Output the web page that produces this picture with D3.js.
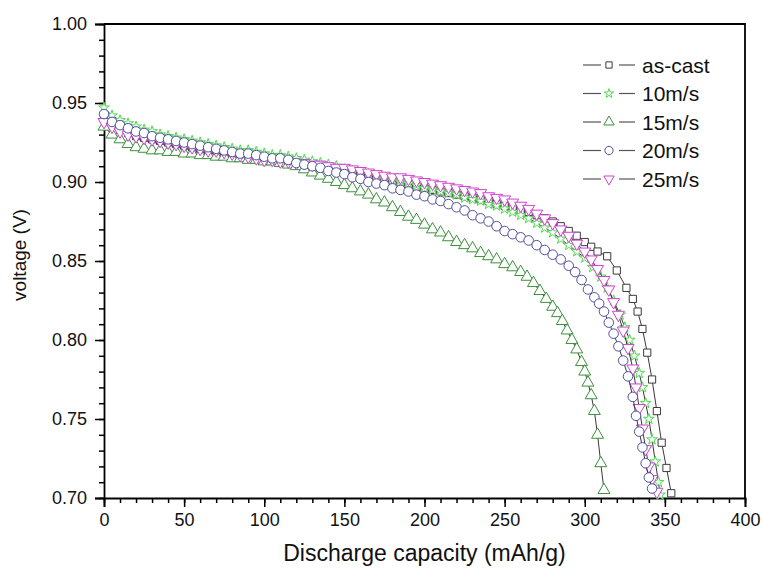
<!DOCTYPE html>
<html>
<head>
<meta charset="utf-8">
<script src="https://cdn.jsdelivr.net/npm/d3@7"></script>
<style>
  body { margin: 0; background: #fff; }
  svg text { font-family: "Liberation Sans", Arial, sans-serif; fill: #111; }
</style>
</head>
<body>
<div id="graph"></div>
<script>

// Discharge capacity (mAh/g) and voltage (V), one pair of arrays per sample

var capAsCast  = [ 0, 5, 10, 15, 20, 25, 30, 35, 40, 45, 50, 55, 60, 65, 70, 75, 80, 85, 90, 95,
                   100, 105, 110, 115, 120, 125, 130, 135, 140, 145, 150, 155, 160, 165, 170, 175, 180, 185, 190, 195,
                   200, 205, 210, 215, 220, 225, 230, 235, 240, 245, 250, 255, 260, 265, 270, 275, 280, 285, 290, 295,
                   300, 304, 308, 314, 320, 326, 330, 333, 336, 339, 342, 345, 348, 351, 354 ];
var voltAsCast = [ 0.940, 0.936, 0.933, 0.931, 0.929, 0.928, 0.927, 0.926, 0.925, 0.924, 0.923, 0.922, 0.921, 0.920, 0.920, 0.919, 0.918, 0.917, 0.917, 0.916,
                   0.915, 0.914, 0.913, 0.913, 0.912, 0.911, 0.910, 0.909, 0.909, 0.908, 0.907, 0.906, 0.905, 0.904, 0.903, 0.902, 0.901, 0.900, 0.898, 0.897,
                   0.896, 0.895, 0.894, 0.893, 0.892, 0.891, 0.890, 0.889, 0.888, 0.886, 0.885, 0.884, 0.882, 0.881, 0.879, 0.877, 0.875, 0.872, 0.869, 0.866,
                   0.862, 0.859, 0.856, 0.853, 0.844, 0.833, 0.826, 0.818, 0.807, 0.792, 0.775, 0.755, 0.735, 0.719, 0.703 ];

var cap10  = [ 0, 5, 10, 15, 20, 25, 30, 35, 40, 45, 50, 55, 60, 65, 70, 75, 80, 85, 90, 95,
               100, 105, 110, 115, 120, 125, 130, 135, 140, 145, 150, 155, 160, 165, 170, 175, 180, 185, 190, 195,
               200, 205, 210, 215, 220, 225, 230, 235, 240, 245, 250, 255, 260, 265, 270, 275, 280, 285, 290, 295,
               300, 305, 310, 314, 318, 322, 325, 328, 331, 334, 336, 338, 340, 342, 344, 346, 347 ];
var volt10 = [ 0.947, 0.942, 0.939, 0.937, 0.935, 0.933, 0.932, 0.930, 0.929, 0.928, 0.927, 0.926, 0.925, 0.924, 0.923, 0.922, 0.921, 0.920, 0.920, 0.919,
               0.918, 0.917, 0.917, 0.916, 0.915, 0.914, 0.913, 0.912, 0.911, 0.910, 0.908, 0.907, 0.906, 0.905, 0.904, 0.902, 0.901, 0.900, 0.899, 0.898,
               0.896, 0.895, 0.894, 0.893, 0.892, 0.890, 0.889, 0.888, 0.886, 0.885, 0.883, 0.881, 0.879, 0.877, 0.874, 0.871, 0.868, 0.864, 0.860, 0.856,
               0.852, 0.846, 0.840, 0.833, 0.825, 0.816, 0.808, 0.800, 0.790, 0.779, 0.770, 0.760, 0.750, 0.737, 0.723, 0.710, 0.702 ];

var cap15  = [ 0, 5, 10, 15, 20, 25, 30, 35, 40, 45, 50, 55, 60, 65, 70, 75, 80, 85, 90, 95,
               100, 105, 110, 115, 120, 125, 130, 135, 140, 145, 150, 155, 160, 165, 170, 175, 180, 185, 190, 195,
               200, 205, 210, 215, 220, 225, 230, 235, 240, 245, 250, 255, 260, 264, 268, 272, 276, 280, 283, 286,
               289, 292, 295, 298, 300, 302, 304, 306, 308, 310, 312 ];
var volt15 = [ 0.935, 0.930, 0.927, 0.924, 0.922, 0.921, 0.920, 0.920, 0.919, 0.919, 0.918, 0.918, 0.917, 0.917, 0.916, 0.916, 0.915, 0.915, 0.914, 0.914,
               0.913, 0.913, 0.912, 0.911, 0.910, 0.908, 0.906, 0.904, 0.902, 0.900, 0.898, 0.896, 0.894, 0.892, 0.889, 0.887, 0.884, 0.881, 0.878, 0.876,
               0.873, 0.870, 0.868, 0.865, 0.862, 0.860, 0.858, 0.855, 0.853, 0.851, 0.848, 0.846, 0.843, 0.840, 0.836, 0.831, 0.826, 0.821, 0.817, 0.812,
               0.806, 0.800, 0.794, 0.786, 0.780, 0.773, 0.765, 0.755, 0.740, 0.722, 0.705 ];

var cap20  = [ 0, 5, 10, 15, 20, 25, 30, 35, 40, 45, 50, 55, 60, 65, 70, 75, 80, 85, 90, 95,
               100, 105, 110, 115, 120, 125, 130, 135, 140, 145, 150, 155, 160, 165, 170, 175, 180, 185, 190, 195,
               200, 205, 210, 215, 220, 225, 230, 235, 240, 245, 250, 255, 260, 265, 270, 275, 280, 285, 290, 294,
               298, 302, 306, 309, 312, 315, 318, 321, 324, 327, 330, 332, 334, 336, 338, 340, 342 ];
var volt20 = [ 0.943, 0.938, 0.936, 0.934, 0.932, 0.931, 0.929, 0.928, 0.927, 0.926, 0.925, 0.924, 0.923, 0.922, 0.921, 0.920, 0.919, 0.918, 0.918, 0.917,
               0.916, 0.915, 0.915, 0.914, 0.912, 0.911, 0.910, 0.909, 0.907, 0.906, 0.905, 0.903, 0.902, 0.900, 0.899, 0.898, 0.896, 0.895, 0.894, 0.892,
               0.891, 0.889, 0.888, 0.886, 0.884, 0.882, 0.879, 0.877, 0.875, 0.872, 0.869, 0.867, 0.865, 0.863, 0.860, 0.857, 0.854, 0.851, 0.847, 0.843,
               0.838, 0.832, 0.827, 0.823, 0.818, 0.811, 0.804, 0.796, 0.787, 0.777, 0.764, 0.752, 0.742, 0.732, 0.722, 0.713, 0.706 ];

var cap25  = [ 0, 5, 10, 15, 20, 25, 30, 35, 40, 45, 50, 55, 60, 65, 70, 75, 80, 85, 90, 95,
               100, 105, 110, 115, 120, 125, 130, 135, 140, 145, 150, 155, 160, 165, 170, 175, 180, 185, 190, 195,
               200, 205, 210, 215, 220, 225, 230, 235, 240, 245, 250, 255, 260, 265, 270, 275, 280, 285, 290, 295,
               300, 304, 308, 312, 315, 318, 321, 324, 327, 330, 332, 334, 336, 338, 340, 342, 345 ];
var volt25 = [ 0.938, 0.935, 0.932, 0.930, 0.929, 0.928, 0.927, 0.926, 0.925, 0.924, 0.923, 0.922, 0.921, 0.920, 0.920, 0.919, 0.918, 0.917, 0.916, 0.915,
               0.914, 0.914, 0.913, 0.913, 0.912, 0.912, 0.911, 0.911, 0.910, 0.909, 0.909, 0.908, 0.907, 0.906, 0.905, 0.904, 0.903, 0.903, 0.902, 0.901,
               0.900, 0.899, 0.898, 0.897, 0.896, 0.895, 0.894, 0.893, 0.891, 0.890, 0.889, 0.887, 0.885, 0.883, 0.880, 0.877, 0.874, 0.870, 0.866, 0.861,
               0.856, 0.851, 0.845, 0.838, 0.832, 0.824, 0.816, 0.806, 0.795, 0.782, 0.770, 0.757, 0.744, 0.731, 0.720, 0.712, 0.704 ];

var seriesNames = [ 'as-cast', '10m/s', '15m/s', '20m/s', '25m/s' ];

var xTickLabels = [ 0, 50, 100, 150, 200, 250, 300, 350, 400 ];
var yTickLabels = [ 0.70, 0.75, 0.80, 0.85, 0.90, 0.95, 1.00 ];


function DischargeChart ()
{
    var overallWidth  = 762;
    var overallHeight = 569;

    var margin = { top: 24, right: 17, bottom: 71, left: 104 };

    var width  = overallWidth - margin.left - margin.right;
    var height = overallHeight - margin.top - margin.bottom;

    // marker style per series: symbol, colour, size, rotation
    var styles = [
        { sym: d3.symbolSquare,   col: '#3a3a3a', size: 52, rot: 0 },
        { sym: d3.symbolStar,     col: '#4fd84f', size: 36, rot: 0 },
        { sym: d3.symbolTriangle, col: '#3d8f3d', size: 62, rot: 0 },
        { sym: d3.symbolCircle,   col: '#4f4fa0', size: 72, rot: 0 },
        { sym: d3.symbolTriangle, col: '#d040d0', size: 62, rot: 180 }
    ];

    var caps  = [ capAsCast,  cap10,  cap15,  cap20,  cap25 ];
    var volts = [ voltAsCast, volt10, volt15, volt20, volt25 ];

    // drawing order: the circles sit on top in the flat part
    var drawOrder = [ 0, 1, 2, 4, 3 ];

    var x = d3.scaleLinear ().domain ([0, 400]).range ([0, width]);
    var y = d3.scaleLinear ().domain ([0.70, 1.00]).range ([height, 0]);

    var svg = d3.select ('#graph').append ('svg')
                .attr ('width', overallWidth)
                .attr ('height', overallHeight)
                .append ('g')
                .attr ('transform', 'translate(' + margin.left + ',' + margin.top + ')');

    //
    // minor ticks first, then the labelled major ticks
    //
    svg.append ('g')
       .attr ('transform', 'translate(0,' + height + ')')
       .call (d3.axisBottom (x).tickValues (d3.range (0, 401, 10)).tickSize (5).tickFormat (''))
       .call (g => g.select ('.domain').remove ());

    svg.append ('g')
       .call (d3.axisLeft (y).tickValues (d3.range (70, 101, 1).map (v => v / 100)).tickSize (5).tickFormat (''))
       .call (g => g.select ('.domain').remove ());

    var xAxis = svg.append ('g')
                   .attr ('transform', 'translate(0,' + height + ')')
                   .call (d3.axisBottom (x).tickValues (xTickLabels).tickSize (9).tickPadding (6).tickFormat (d3.format ('d')));

    var yAxis = svg.append ('g')
                   .call (d3.axisLeft (y).tickValues (yTickLabels).tickSize (9).tickPadding (8).tickFormat (d3.format ('.2f')));

    svg.selectAll ('.tick line').attr ('stroke', '#000').attr ('stroke-width', 1.5);
    svg.selectAll ('.domain').attr ('stroke', '#000').attr ('stroke-width', 1.8);
    svg.selectAll ('.tick text').style ('font-size', '18px').attr ('fill', '#111');

    // top and right border of the frame
    svg.append ('path')
       .attr ('d', 'M0,0H' + width + 'V' + height)
       .attr ('fill', 'none')
       .attr ('stroke', '#000')
       .attr ('stroke-width', 1.8);

    //
    // the curves: thin dark line plus open markers (white inside)
    //
    var line = d3.line ()
                 .x (function (d) { return x (d[0]); })
                 .y (function (d) { return y (d[1]); });

    drawOrder.forEach (function (s)
    {
        var pts = caps[s].map (function (c, i) { return [ c, volts[s][i] ]; });
        var st  = styles[s];

        svg.append ('path')
           .datum (pts)
           .attr ('d', line)
           .attr ('fill', 'none')
           .attr ('stroke', '#222')
           .attr ('stroke-width', 0.9);

        svg.append ('g')
           .selectAll ('path')
           .data (pts)
           .enter ()
           .append ('path')
           .attr ('d', d3.symbol ().type (st.sym).size (st.size))
           .attr ('transform', function (d) { return 'translate(' + x (d[0]) + ',' + y (d[1]) + ') rotate(' + st.rot + ')'; })
           .attr ('fill', '#fff')
           .attr ('stroke', st.col)
           .attr ('stroke-width', 1);
    });

    //
    // legend
    //
    var legend = svg.append ('g').attr ('transform', 'translate(' + (583 - margin.left) + ',' + (65 - margin.top) + ')');

    seriesNames.forEach (function (name, i)
    {
        var row = legend.append ('g').attr ('transform', 'translate(0,' + (i * 28.5) + ')');
        var st  = styles[i];

        row.append ('line').attr ('x1', 0).attr ('x2', 18).attr ('stroke', '#555').attr ('stroke-width', 1.2);
        row.append ('line').attr ('x1', 36).attr ('x2', 52).attr ('stroke', '#555').attr ('stroke-width', 1.2);
        row.append ('path')
           .attr ('d', d3.symbol ().type (st.sym).size (st.size * 0.75))
           .attr ('transform', 'translate(26,0) rotate(' + st.rot + ')')
           .attr ('fill', '#fff')
           .attr ('stroke', st.col)
           .attr ('stroke-width', 1);
        row.append ('text')
           .attr ('x', 59)
           .attr ('y', 7.5)
           .style ('font-size', '21px')
           .text (name);
    });

    // axis titles
    svg.append ('text')
       .attr ('x', width / 2)
       .attr ('y', height + 63)
       .attr ('text-anchor', 'middle')
       .style ('font-size', '23px')
       .text ('Discharge capacity (mAh/g)');

    svg.append ('text')
       .attr ('transform', 'translate(' + (26 - margin.left) + ',' + (height / 2 - 6) + ') rotate(-90)')
       .attr ('text-anchor', 'middle')
       .style ('font-size', '19px')
       .text ('voltage (V)');
}

DischargeChart ();

</script>
</body>
</html>
